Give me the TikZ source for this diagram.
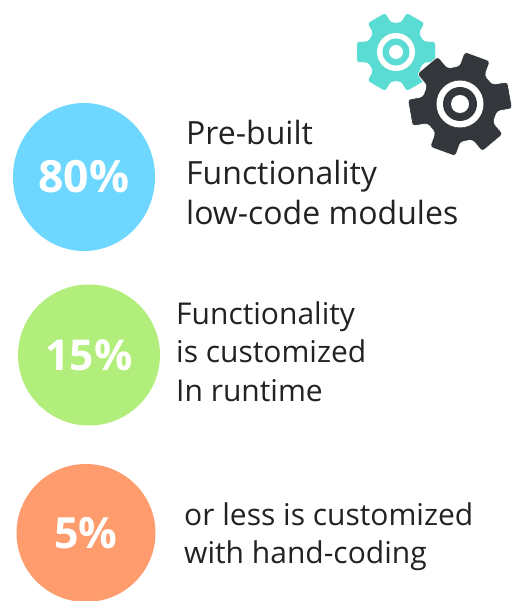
\documentclass[tikz,border=0pt]{standalone}
\usepackage{fontspec}
\setmainfont{Open Sans}
\definecolor{cblue}{HTML}{6DD7FF}
\definecolor{cgreen}{HTML}{B2EE7B}
\definecolor{corange}{HTML}{FF9C6E}
\definecolor{cteal}{HTML}{5ADCD4}
\definecolor{cdark}{HTML}{33363B}
\definecolor{ctext}{HTML}{222222}
\usetikzlibrary{shapes.geometric}
\tikzset{
  badge/.style={ellipse,inner sep=0pt,text=white,font=\fontsize{#1}{#1}\selectfont\bfseries},
  caption/.style 2 args={anchor=west,align=left,inner sep=0pt,text=ctext,font=\fontsize{#1}{#2}\selectfont},
}
% #1 centre x, #2 centre y, #3 rotation, #4 tip r, #5 root r, #6 colour, #7 ring outer, #8 ring inner, #9 hole
\newcommand{\gearshape}[9]{%
  \filldraw[fill=#6,draw=white,line width=0.7pt,rounded corners=3pt,shift={(#1,#2)},rotate=#3]
    (-21:#5) -- (-15:#4) -- (15:#4) -- (21:#5) -- (39:#5)
    -- (45:#4) -- (75:#4) -- (81:#5) -- (99:#5)
    -- (105:#4) -- (135:#4) -- (141:#5) -- (159:#5)
    -- (165:#4) -- (195:#4) -- (201:#5) -- (219:#5)
    -- (225:#4) -- (255:#4) -- (261:#5) -- (279:#5)
    -- (285:#4) -- (315:#4) -- (321:#5) -- cycle;
  \fill[white] (#1,#2) circle (#7);
  \fill[#6] (#1,#2) circle (#8);
  \fill[white] (#1,#2) circle (#9);
}
\begin{document}
\begin{tikzpicture}[x=1pt,y=-1pt]
\useasboundingbox (0,0) rectangle (524,601);
\gearshape{396}{52}{0}{41}{30}{cteal}{19}{13.5}{7}
\gearshape{460}{104}{10}{52.5}{38}{cdark}{23.5}{17}{9}
\node[badge=44.5pt,fill=cblue,minimum width=142pt,minimum height=148pt] (a) at (84,177) {80\%};
\node[badge=42.5pt,fill=cgreen,minimum width=142pt,minimum height=141pt] (b) at (89,355) {15\%};
\node[badge=43pt,fill=corange,minimum width=139pt,minimum height=138pt] (c) at (86,533) {5\%};
\node[caption={32pt}{40pt}] (ta) at (186,173) {Pre-built\\Functionality\\low-code modules};
\node[caption={30pt}{38.5pt}] (tb) at (176,351.5) {Functionality\\is customized\\In runtime};
\node[caption={30pt}{38pt}] (tc) at (184,537) {or less is customized\\with hand-coding};
\end{tikzpicture}
\end{document}
